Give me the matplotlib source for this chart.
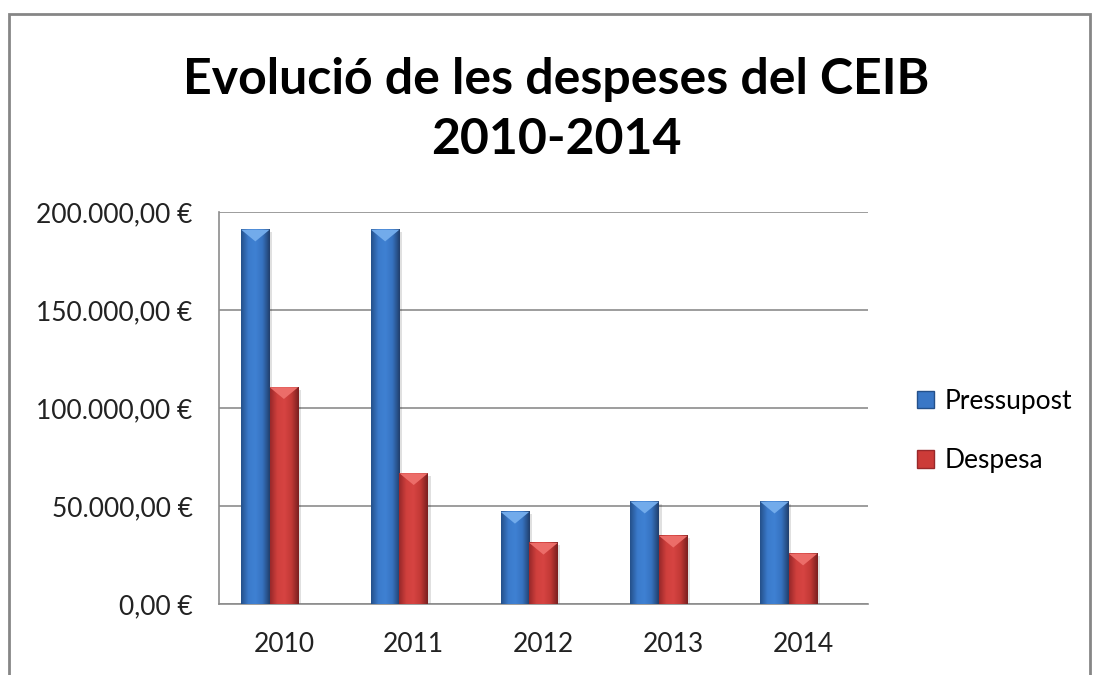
import numpy as np
import matplotlib.pyplot as plt
from matplotlib.patches import Rectangle, Polygon, Patch
from matplotlib.colors import LinearSegmentedColormap

# Dades del gràfic
anys = ['2010', '2011', '2012', '2013', '2014']
pressupost = [191000, 191000, 47000, 52200, 52200]
despesa = [110600, 66700, 31200, 34800, 25700]
yticks = [0, 50000, 100000, 150000, 200000]

plt.rcParams['font.family'] = ['Lato', 'DejaVu Sans']

fig = plt.figure(figsize=(10.94, 6.75), dpi=100)
W, H = 1094, 675

# marc exterior del gràfic
fig.patches.append(Rectangle((9 / W, -0.05), (1090 - 9) / W, 1.05 - 14 / H,
                             transform=fig.transFigure, fill=False,
                             edgecolor='#868686', lw=2))

ax = fig.add_axes([219 / W, (H - 604) / H, (868 - 219) / W, (604 - 212) / H])

x = np.arange(len(anys))
w = 0.22
b1 = ax.bar(x - w, pressupost, w, align='center', color='#3a77c6', zorder=3)
b2 = ax.bar(x, despesa, w, align='center', color='#cc3b38', zorder=3)

blau = LinearSegmentedColormap.from_list('b', ['#24508a', '#3b7acb', '#3f81d3', '#3672c0', '#213f6c'])
vermell = LinearSegmentedColormap.from_list('r', ['#98282a', '#d0403d', '#d64442', '#c23936', '#7a1f1f'])
grad = np.linspace(0, 1, 64).reshape(1, -1)


def bisell(bars, cmap, clar):
    for p in bars:
        x0, y0 = p.get_x(), p.get_y()
        bw, bh = p.get_width(), p.get_height()
        # ombra suau
        ax.add_patch(Rectangle((x0 + 0.02, y0 - 1200), bw, bh, color='#000000',
                               alpha=0.12, zorder=2, lw=0))
        ax.imshow(grad, cmap=cmap, extent=(x0, x0 + bw, y0, y0 + bh),
                  aspect='auto', interpolation='bicubic', zorder=4)
        d = min(6000, bh * 0.5)
        ax.add_patch(Polygon([(x0, bh), (x0 + bw, bh), (x0 + bw * 0.5, bh - d)],
                             closed=True, color=clar, zorder=5, lw=0))


bisell(b1, blau, '#72abeb')
bisell(b2, vermell, '#ec6d69')

ax.set_xlim(-0.5, len(anys) - 0.5)
ax.set_ylim(0, 200000)
ax.set_xticks(x)
ax.set_xticklabels(anys, fontsize=19, color='#222222')
ax.set_yticks(yticks)
ax.set_yticklabels([f"{v:,.2f}".replace(',', 'X').replace('.', ',').replace('X', '.') + ' €'
                    for v in yticks], fontsize=19, color='#222222')
ax.tick_params(axis='both', length=0)
ax.tick_params(axis='y', pad=19)
ax.tick_params(axis='x', pad=20)
ax.grid(axis='y', color='#8c8c8c', lw=1.2, zorder=0)
for s in ['top', 'right']:
    ax.spines[s].set_visible(False)
for s in ['left', 'bottom']:
    ax.spines[s].set_color('#8c8c8c')
    ax.spines[s].set_linewidth(1.2)

fig.text(556 / W, 1 - 80 / H, 'Evolució de les despeses del CEIB',
         ha='center', va='center', fontsize=36, fontweight='bold')
fig.text(556 / W, 1 - 140 / H, '2010-2014',
         ha='center', va='center', fontsize=36, fontweight='bold')

handles = [Patch(facecolor='#3a77c6', edgecolor='#24508a'),
           Patch(facecolor='#cc3b38', edgecolor='#98282a')]
fig.legend(handles, ['Pressupost', 'Despesa'], loc='center left',
           bbox_to_anchor=(893 / W, 1 - 431 / H), frameon=False,
           fontsize=19, handlelength=0.65, handleheight=0.65,
           handletextpad=0.4, labelspacing=1.3)

fig.savefig('out.png', dpi=100, facecolor='white')
